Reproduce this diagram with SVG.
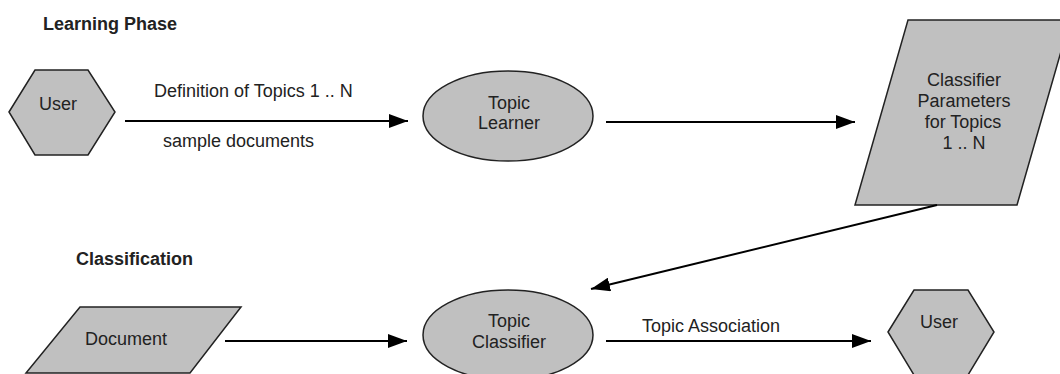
<svg xmlns="http://www.w3.org/2000/svg" width="1060" height="374" viewBox="0 0 1060 374">
<defs>
<marker id="ah" viewBox="0 0 19 14" refX="19" refY="7" markerWidth="19" markerHeight="14" markerUnits="userSpaceOnUse" orient="auto">
<path d="M0,0 L19,7 L0,14 Z" fill="#000"/>
</marker>
<style>
.shape{fill:#c0c0c0;stroke:#222;stroke-width:1.5}
.t{font-family:"Liberation Sans",Arial,sans-serif;font-size:18px;fill:#222}
.h{font-family:"Liberation Sans",Arial,sans-serif;font-size:18px;font-weight:bold;fill:#222}
.c{text-anchor:middle}
.edge{stroke:#000;stroke-width:2;fill:none;marker-end:url(#ah)}
</style>
</defs>
<rect width="1060" height="374" fill="#fff"/>
<text class="h" x="43" y="30">Learning Phase</text>
<text class="h" x="76" y="265">Classification</text>
<g id="user1">
<polygon class="shape" points="9,112 35,70 88,70 115,112 88,155 35,155"/>
<text class="t c" x="58" y="110">User</text>
</g>
<g id="learner">
<ellipse class="shape" cx="508" cy="116" rx="85" ry="45"/>
<text class="t c" x="509" y="109">Topic</text>
<text class="t c" x="509" y="129">Learner</text>
</g>
<g id="params">
<polygon class="shape" points="908,20 1070,20 1017,205 855,205"/>
<text class="t c" x="964" y="86">Classifier</text>
<text class="t c" x="964" y="107">Parameters</text>
<text class="t c" x="963" y="128">for Topics</text>
<text class="t c" x="964" y="149">1 .. N</text>
</g>
<g id="document">
<polygon class="shape" points="80,307 241,307 190,373 26,373"/>
<text class="t" x="85" y="345">Document</text>
</g>
<g id="classifier">
<ellipse class="shape" cx="508" cy="335" rx="85" ry="45"/>
<text class="t c" x="509" y="327">Topic</text>
<text class="t c" x="509" y="348">Classifier</text>
</g>
<g id="user2">
<polygon class="shape" points="888,332 914,290 968,290 994,332 968,375 914,375"/>
<text class="t c" x="939" y="328">User</text>
</g>
<g id="connectors">
<line class="edge" x1="125" y1="121" x2="408" y2="121"/>
<line class="edge" x1="606" y1="122" x2="855" y2="122"/>
<line class="edge" x1="937" y1="205" x2="591" y2="289"/>
<line class="edge" x1="225" y1="341" x2="407" y2="341"/>
<line class="edge" x1="606" y1="341" x2="871" y2="341"/>
</g>
<g id="labels">
<text class="t" x="154" y="97">Definition of Topics 1 .. N</text>
<text class="t" x="163" y="147">sample documents</text>
<text class="t" x="642" y="332">Topic Association</text>
</g>
</svg>
